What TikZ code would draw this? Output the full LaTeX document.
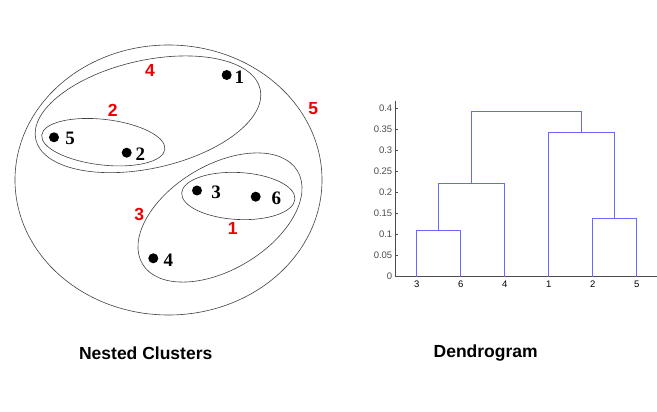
\documentclass[tikz,border=0pt]{standalone}
\usepackage{fontspec}
\setmainfont{Liberation Serif}
\newfontfamily\arialfont{Liberation Sans}
\usetikzlibrary{positioning}
\definecolor{clusterred}{RGB}{240,0,0}
\definecolor{dendroblue}{RGB}{105,105,255}

\begin{document}
\begin{tikzpicture}[
  x=1pt,y=1pt,
  node distance=3pt,
  hull/.style={draw=black!75,line width=.6pt},
  point/.style={fill=black,circle,minimum size=10pt,inner sep=0pt},
  ptlabel/.style={inner sep=0pt,font=\fontsize{19}{19}\selectfont\bfseries},
  stage/.style={text=clusterred,font=\arialfont\fontsize{17.5}{17.5}\selectfont\bfseries},
  caption/.style={font=\arialfont\fontsize{17.5}{17.5}\selectfont\bfseries},
  link/.style={draw=dendroblue,line width=.8pt},
  ticklabel/.style={inner sep=0pt,font=\arialfont\fontsize{9.5}{9.5}\selectfont}
]
  \useasboundingbox (0,0) rectangle (657,412);

  % nested clusters
  \draw[hull] (168.5,232) ellipse [x radius=153.5,y radius=135];
  \draw[hull,shift={(148,297.7)},rotate=12.6] (0,0) ellipse [x radius=115,y radius=54];
  \draw[hull,shift={(103.3,269.8)},rotate=-6.6] (0,0) ellipse [x radius=62,y radius=22.8];
  \draw[hull,shift={(220,194.5)},rotate=31] (0,0) ellipse [x radius=90.4,y radius=52.2];
  \draw[hull,shift={(238.3,216)},rotate=-3] (0,0) ellipse [x radius=56.7,y radius=23.5];

  \node[point] (p1) at (226.7,337) {};
  \node[point] (p5) at (54,274.7) {};
  \node[point] (p2) at (126.7,259.3) {};
  \node[point] (p3) at (197,221.5) {};
  \node[point] (p6) at (255.7,215.3) {};
  \node[point] (p4) at (153.3,153.7) {};
  \node[ptlabel,right=2.5pt of p1,yshift=-2pt] (n1) {1};
  \node[ptlabel,right=6pt of p5,yshift=-1pt] (n5) {5};
  \node[ptlabel,right=3.5pt of p2,yshift=-1.5pt] (n2) {2};
  \node[ptlabel,right=9pt of p3,yshift=-2pt] (n3) {3};
  \node[ptlabel,right=10.5pt of p6,yshift=-2pt] (n6) {6};
  \node[ptlabel,right=5pt of p4,yshift=-2pt] (n4) {4};

  \node[stage] (s1) at (232.7,183.7) {1};
  \node[stage] (s2) at (112.7,302) {2};
  \node[stage] (s3) at (139.3,198) {3};
  \node[stage] (s4) at (150,341.3) {4};
  \node[stage] (s5) at (313.3,303.7) {5};

  % dendrogram
  \begin{scope}[shift={(395,135.3)},y=421pt]
    \draw[black!70,line width=.6pt] (0,.418) -- (0,0) -- (262,0);
    \foreach \h in {0,0.05,0.1,0.15,0.2,0.25,0.3,0.35,0.4}
      \draw[black!70,line width=.5pt] (0,\h) -- (2.5,\h)
        node[ticklabel,anchor=east,xshift=-5pt] {\h};

    \coordinate (b3) at (21.7,0);
    \coordinate (b6) at (65.7,0);
    \coordinate (b4) at (109.7,0);
    \coordinate (b1) at (153.7,0);
    \coordinate (b2) at (197.7,0);
    \coordinate (b5) at (241.7,0);
    \foreach \leaf in {3,6,4,1,2,5}
      \node[ticklabel,below=4pt of b\leaf] (x\leaf) {\leaf};

    \coordinate (m36) at (43.7,.11);
    \coordinate (m25) at (219.7,.139);
    \coordinate (m364) at (76.7,.221);
    \coordinate (m125) at (186.7,.342);
    \coordinate (mtop) at (131.7,.392);

    \draw[link] (b3) |- (m36) -| (b6);
    \draw[link] (b2) |- (m25) -| (b5);
    \draw[link] (m36) |- (m364) -| (b4);
    \draw[link] (b1) |- (m125) -| (m25);
    \draw[link] (m364) |- (mtop) -| (m125);
  \end{scope}

  \node[caption] (t1) at (145.7,59) {Nested Clusters};
  \node[caption] (t2) at (485.7,59) {Dendrogram};
\end{tikzpicture}
\end{document}
